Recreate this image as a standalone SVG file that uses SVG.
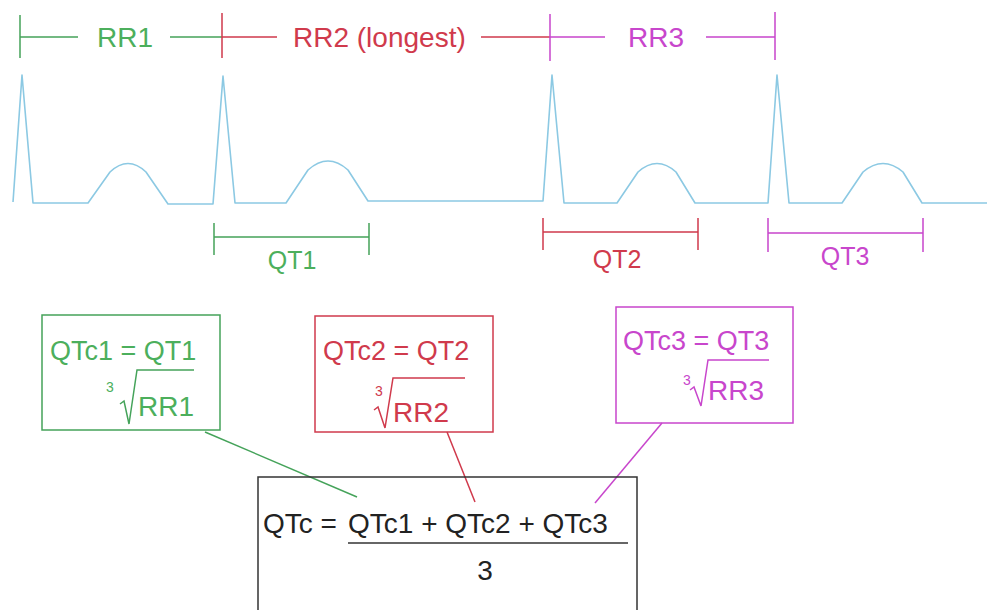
<svg xmlns="http://www.w3.org/2000/svg" width="987" height="610" viewBox="0 0 987 610">
<style>
text{font-family:"Liberation Sans",Arial,sans-serif}
.g{stroke:#45a35a;fill:none;stroke-width:1.5}
.r{stroke:#d03a4c;fill:none;stroke-width:1.5}
.m{stroke:#c846cc;fill:none;stroke-width:1.5}
.gt{fill:#4caf5c}
.rt{fill:#d03a4c}
.mt{fill:#c846cc}
.ecg{stroke:#8cc9e3;fill:none;stroke-width:1.6;stroke-linejoin:round}
.k{stroke:#333;fill:none;stroke-width:1.5}
.eq{font-size:27px}
.sup{font-size:14px}
.rad{font-size:28px}
</style>
<rect width="987" height="610" fill="#fff"/>
<g id="rr1">
<path class="g" d="M20,15V58M20,37H78M170,37H222"/>
<text class="gt" x="97" y="47" font-size="28">RR1</text>
</g>
<g id="rr2">
<path class="r" d="M222,13V58M222,37H277M481,37H550"/>
<text class="rt" x="293" y="47" font-size="28">RR2 (longest)</text>
</g>
<g id="rr3">
<path class="m" d="M550,14V61M550,37H605M706,37H775M775,12V60"/>
<text class="mt" x="628" y="47" font-size="28">RR3</text>
</g>
<g id="ecg">
<path class="ecg" d="M13,202L22,75L33,203L88,203L110,172Q128,155 146,172L168,204L213,204L223,76L235,203L286,203L308,170Q328,152 348,170L368,201L543,201L552,75L564,203L617,203L638,172Q657,155 676,172L695,203L768,203L777,75L789,203L842,203L863,172Q883,155 903,172L922,203L987,203"/>
</g>
<g id="qt1">
<path class="g" d="M214,223V255M369,223V255M214,237H369"/>
<text class="gt" x="292" y="269" font-size="25" text-anchor="middle">QT1</text>
</g>
<g id="qt2">
<path class="r" d="M543,218V250M698,218V250M543,232H698"/>
<text class="rt" x="617" y="268" font-size="25" text-anchor="middle">QT2</text>
</g>
<g id="qt3">
<path class="m" d="M768,218V252M923,218V252M768,233H923"/>
<text class="mt" x="845" y="265" font-size="25" text-anchor="middle">QT3</text>
</g>
<g id="connectors">
<path class="g" d="M205,432L357,497"/>
<path class="r" d="M447,432L475,502"/>
<path class="m" d="M662,423L595,503"/>
</g>
<g id="qtc1">
<rect class="g" x="42" y="315" width="178" height="115"/>
<text class="gt eq" x="50" y="360">QTc1 = QT1</text>
<text class="gt sup" x="106" y="392">3</text>
<path class="g" d="M120,404L124,401L129,424L137,370H194" stroke-width="1.8"/>
<text class="gt rad" x="138" y="416">RR1</text>
</g>
<g id="qtc2">
<rect class="r" x="315" y="316" width="178" height="116"/>
<text class="rt eq" x="323" y="360">QTc2 = QT2</text>
<text class="rt sup" x="375" y="396">3</text>
<path class="r" d="M374,410L378,407L385,428L393,378H465" stroke-width="1.8"/>
<text class="rt rad" x="393" y="422">RR2</text>
</g>
<g id="qtc3">
<rect class="m" x="616" y="307" width="177" height="116"/>
<text class="mt eq" x="623" y="350">QTc3 = QT3</text>
<text class="mt sup" x="683" y="385">3</text>
<path class="m" d="M690,390L694,387L701,406L708,360H769" stroke-width="1.8"/>
<text class="mt rad" x="708" y="400">RR3</text>
</g>
<g id="qtc">
<rect class="k" x="258" y="477" width="379" height="145" fill="#fff"/>
<text x="263" y="533" font-size="28" fill="#222">QTc =</text>
<text x="348" y="533" font-size="28" fill="#222">QTc1 + QTc2 + QTc3</text>
<path class="k" d="M348,543H628"/>
<text x="485" y="580" font-size="28" fill="#222" text-anchor="middle">3</text>
</g>
</svg>
